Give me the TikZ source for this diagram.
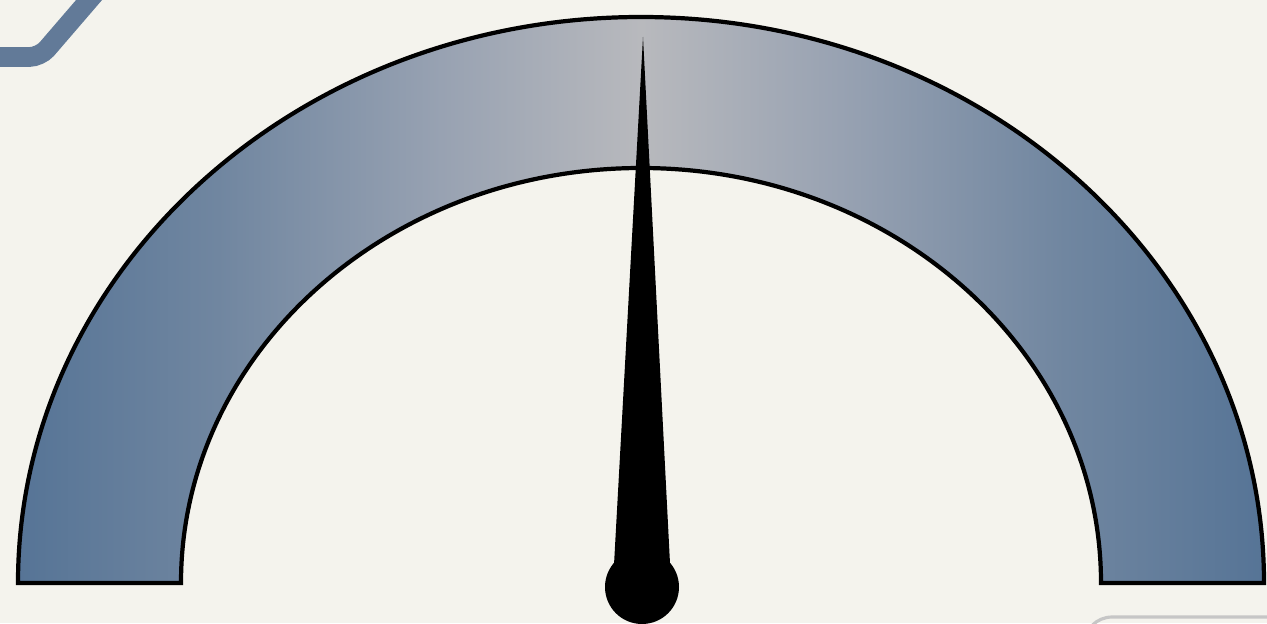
\documentclass[tikz,border=0pt]{standalone}
\usepackage{tikz}
\definecolor{paper}{RGB}{244,243,237}
\definecolor{steel}{RGB}{86,116,150}
\definecolor{steelmid}{RGB}{112,134,160}
\definecolor{steellight}{RGB}{152,162,178}
\definecolor{mist}{RGB}{184,185,189}
\definecolor{cornerband}{RGB}{98,122,152}
\pgfdeclarehorizontalshading{gaugeshade}{100bp}{color(0bp)=(steel); color(25bp)=(steel);
  color(33bp)=(steelmid); color(42bp)=(steellight); color(50bp)=(mist);
  color(58bp)=(steellight); color(67bp)=(steelmid); color(75bp)=(steel); color(100bp)=(steel)}
\tikzset{
  gaugeband/.style={draw=black,line width=1.2pt,shading=gaugeshade},
  needle/.style={fill=black,draw=none}
}
\begin{document}
\begin{tikzpicture}[scale=1.0]
\useasboundingbox (0,0) rectangle (12.67,6.23);
\fill[paper] (0,0) rectangle (12.67,6.23);
\begin{scope}
\clip (0,0) rectangle (12.67,6.23);
\draw[cornerband,line width=5.6pt,rounded corners=3pt] (-0.2,5.66) -- (0.40,5.66) -- (1.08,6.45);
\draw[gray!45,line width=0.9pt,rounded corners=8pt] (10.84,-0.3) -- (10.84,0.06) -- (13.0,0.06);
\end{scope}
\shade[gaugeband] (0.18,0.40) arc[start angle=180,end angle=0,x radius=6.23,y radius=5.66]
  -- (11.01,0.40) arc[start angle=0,end angle=180,x radius=4.60,y radius=4.15] -- cycle;
\fill[needle] (6.43,5.86) -- (6.71,0.40) -- (6.13,0.40) -- cycle;
\fill[needle] (6.42,0.36) circle (0.37);
\end{tikzpicture}
\end{document}
